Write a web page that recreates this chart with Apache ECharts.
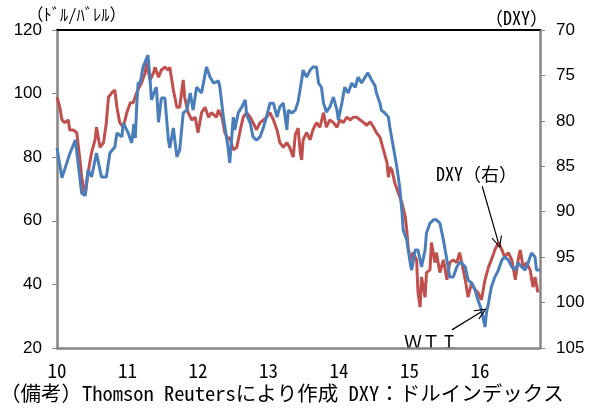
<!DOCTYPE html>
<html><head><meta charset="utf-8">
<script src="https://cdn.jsdelivr.net/npm/echarts@6/dist/echarts.min.js"></script>
<style>html,body{margin:0;padding:0;background:#fff}#c{width:597px;height:411px}</style>
</head><body><div id="c"></div>
<script>
// WTI (USD/barrel), left axis — time as fractional year (10 = 2010)
var wtiT = [10.00,10.07,10.18,10.26,10.35,10.40,10.44,10.49,10.56,10.63,
10.70,10.75,10.82,10.85,10.92,10.94,11.01,11.06,11.09,11.11,
11.13,11.15,11.18,11.22,11.29,11.32,11.34,11.39,11.41,11.44,
11.48,11.53,11.58,11.60,11.65,11.70,11.74,11.79,11.84,11.89,
11.93,11.98,12.05,12.12,12.17,12.22,12.29,12.31,12.36,12.41,
12.43,12.45,12.50,12.52,12.57,12.62,12.67,12.69,12.74,12.78,
12.83,12.88,12.93,12.97,13.02,13.07,13.12,13.16,13.21,13.26,
13.28,13.33,13.38,13.42,13.47,13.49,13.54,13.59,13.63,13.68,
13.71,13.75,13.78,13.82,13.87,13.92,13.97,13.99,14.04,14.08,
14.13,14.18,14.23,14.27,14.32,14.37,14.41,14.46,14.51,14.53,
14.58,14.60,14.65,14.70,14.72,14.77,14.82,14.86,14.89,14.91,
14.96,15.01,15.03,15.08,15.12,15.17,15.22,15.24,15.29,15.34,
15.38,15.43,15.48,15.53,15.57,15.62,15.67,15.71,15.74,15.79,
15.83,15.88,15.93,15.97,16.02,16.07,16.09,16.12,16.16,16.21,
16.26,16.31,16.35,16.40,16.45,16.50,16.54,16.59,16.64,16.68,
16.73,16.78,16.80,16.85];
var wtiV = [82.9,73.5,81,85.4,68.7,68,76,73.8,81.3,73.8,
73.8,81.3,83.2,87.6,86.4,90.8,87.6,84.5,90.5,86,
96,103.3,103.3,108.4,112.1,104.3,98,101.1,102,91,
98.6,98.6,85.4,82.9,89.2,80.1,82.3,93.9,94.8,100.2,
94.8,102,100.2,108.4,105.2,103.3,104,102,92.6,85.4,
82.3,78.2,92.6,88.6,93.9,95.8,98,93.3,90.8,86.4,
85.4,86.4,89.5,92.6,97,97,92.6,95.8,97,88.6,
94.8,93.9,94.8,97.5,104.3,107.4,105.2,107.4,108.4,108.4,
103.3,102,97,94.2,95.8,98.9,94.8,91.7,97,102,
100.2,103.3,102,105.2,103.3,105.2,106.5,104.3,102.5,100.2,
97,94.8,93.9,92.6,89.5,83.2,76.9,70.6,63.4,57.1,
54,46.7,44.5,50.8,50.8,45.5,50.8,56.2,59.3,60.3,
60.3,59.3,54,47.7,42.3,42.3,45.5,47,46.7,45.5,
41.4,40.4,38.2,35.1,32,26.6,31,34.2,39.2,42.3,
44.5,47.7,48.6,47.7,45.5,44.5,46.7,45.5,44.5,46.7,
49.9,48.6,44.5,44.5];

// DXY, right axis (inverted)
var dxyT = [10.00,10.04,10.07,10.11,10.16,10.18,10.23,10.28,10.33,10.35,
10.40,10.44,10.49,10.54,10.56,10.61,10.66,10.70,10.73,10.78,
10.82,10.85,10.89,10.94,10.99,11.04,11.08,11.13,11.20,11.25,
11.27,11.32,11.37,11.39,11.44,11.48,11.53,11.58,11.60,11.65,
11.70,11.74,11.79,11.81,11.86,11.91,11.96,12.00,12.05,12.10,
12.15,12.19,12.26,12.29,12.34,12.38,12.43,12.45,12.50,12.55,
12.60,12.64,12.69,12.74,12.78,12.83,12.88,12.93,12.97,13.02,
13.07,13.12,13.16,13.21,13.26,13.30,13.35,13.38,13.42,13.45,
13.47,13.49,13.54,13.59,13.63,13.68,13.73,13.78,13.82,13.87,
13.92,13.97,14.01,14.06,14.11,14.16,14.20,14.25,14.30,14.35,
14.39,14.44,14.49,14.53,14.58,14.63,14.68,14.70,14.72,14.75,
14.79,14.84,14.89,14.94,14.96,14.98,15.01,15.05,15.10,15.12,
15.15,15.17,15.22,15.24,15.29,15.31,15.36,15.38,15.43,15.48,
15.53,15.57,15.62,15.67,15.71,15.74,15.79,15.83,15.88,15.93,
15.97,16.02,16.07,16.12,16.16,16.21,16.26,16.31,16.35,16.40,
16.45,16.50,16.54,16.57,16.61,16.66,16.71,16.75,16.78,16.82];
var dxyV = [77.4,78.5,79.9,80.2,79.9,81,81,81.3,84.6,86.2,
88.2,85.7,83.5,82.1,80.7,82.9,82.4,80.2,77.4,76.9,
76.6,78.5,80.2,80.7,79.1,78,78,76.9,75.8,74.7,
73.6,75.5,74.7,74.1,75.2,74.4,74.1,74.4,74.1,76.6,
78.5,78.5,75.5,77.4,79.1,79.9,79.6,81.3,79.1,78.5,
79.6,79.1,79.6,78.8,79.6,81.3,82.1,81.8,83.2,82.9,
81,79.6,79.1,79.6,80.2,81,80.2,79.9,79.6,79.1,
79.9,81,82.4,82.9,82.4,82.9,84,81.5,80.8,83.5,
84.3,82.1,81.3,82.1,81,80.2,80.7,79.1,80.7,79.9,
80.2,80.7,79.9,80.2,79.6,79.9,79.6,79.6,79.9,80.2,
80.5,80.1,80.7,81.3,81.8,83.2,84.6,86.2,85.1,85.4,
86.8,87.9,89,90.6,92,93.9,95.3,94.5,95.3,98.9,
100.5,97.2,99.4,96.7,96.4,93.4,95.6,94.5,96.7,95.3,
97.5,95.6,95.3,95.6,94.5,95.6,97.5,99.4,97.8,98.6,
98.9,99.7,97.5,96.1,95.3,94.2,93.4,94.2,95,94.5,
95.3,97.5,95.3,94.2,96.1,95.6,96.4,98.3,97.2,98.9];

var yearTicks = ['10','11','12','13','14','15','16'];
var leftTicks = [20,40,60,80,100,120];
var rightTicks = [70,75,80,85,90,95,100,105];

var GOTHIC = '"Noto Sans Mono CJK JP","Noto Sans CJK JP",sans-serif';
var ARIAL = '"Liberation Sans",Arial,sans-serif';
var arrowHead = 'path://M0,12 L6,0 L12,12 L10.6,12 L6,2.8 L1.4,12 Z';

function zip(t, v) { return t.map(function (x, i) { return [x, v[i]]; }); }

var chart = echarts.init(document.getElementById('c'), null, {renderer: 'canvas'});
chart.setOption({
  backgroundColor: '#fff',
  animation: false,
  grid: {left: 57, right: 57, top: 30, bottom: 63, containLabel: false},
  xAxis: [{
    type: 'value', min: 10, max: 16.85, interval: 1,
    axisLine: {show: true, lineStyle: {color: '#868686', width: 2.5}},
    axisTick: {show: false},
    splitLine: {show: false},
    axisLabel: {
      margin: 13, fontFamily: GOTHIC, fontSize: 19, color: '#000',
      formatter: function (v) { var i = Math.round(v) - 10; return yearTicks[i] !== undefined && Math.abs(v - Math.round(v)) < 1e-6 ? yearTicks[i] : ''; }
    }
  }, {
    type: 'value', min: 10, max: 16.85, position: 'top',
    axisLine: {show: true, onZero: false, lineStyle: {color: '#000', width: 2}},
    axisTick: {show: false}, axisLabel: {show: false}, splitLine: {show: false}
  }],
  yAxis: [{
    type: 'value', min: 20, max: 120, interval: 20, position: 'left',
    axisLine: {show: true, lineStyle: {color: '#868686', width: 2.5}},
    axisTick: {show: true, inside: false, length: 5, lineStyle: {color: '#868686', width: 1}},
    splitLine: {show: false},
    axisLabel: {
      margin: 15, fontFamily: ARIAL, fontSize: 17, color: '#000',
      formatter: function (v) { return leftTicks.indexOf(v) >= 0 ? String(v) : ''; }
    }
  }, {
    type: 'value', min: 70, max: 105, interval: 5, inverse: true, position: 'right',
    axisLine: {show: true, lineStyle: {color: '#868686', width: 2.5}},
    axisTick: {show: true, inside: false, length: 5, lineStyle: {color: '#868686', width: 1}},
    splitLine: {show: false},
    axisLabel: {
      margin: 16, fontFamily: ARIAL, fontSize: 17, color: '#000',
      formatter: function (v) { return rightTicks.indexOf(v) >= 0 ? String(v) : ''; }
    }
  }],
  series: [{
    name: 'DXY', type: 'line', xAxisIndex: 0, yAxisIndex: 1,
    data: zip(dxyT, dxyV), showSymbol: false, smooth: false,
    lineStyle: {color: '#C0504D', width: 3}, z: 2,
    markLine: {
      silent: true, animation: false,
      symbol: ['none', arrowHead], symbolSize: [11, 12],
      lineStyle: {color: '#000', width: 1.2, type: 'solid'},
      label: {show: false},
      data: [[{coord: [16.03, 87.2]}, {coord: [16.26, 93.4]}]]
    }
  }, {
    name: 'WTI', type: 'line', xAxisIndex: 0, yAxisIndex: 0,
    data: zip(wtiT, wtiV), showSymbol: false, smooth: false,
    lineStyle: {color: '#4A7EBB', width: 3}, z: 3,
    markLine: {
      silent: true, animation: false,
      symbol: ['none', arrowHead], symbolSize: [11, 12],
      lineStyle: {color: '#000', width: 1.2, type: 'solid'},
      label: {show: false},
      data: [[{coord: [15.60, 25.7]}, {coord: [16.02, 31.4]}]]
    }
  }],
  graphic: [
    {type: 'text', left: 27, top: 6, style: {text: '（ﾄﾞﾙ/ﾊﾞﾚﾙ）', font: '16.5px ' + GOTHIC, fill: '#000'}},
    {type: 'text', left: 485, top: 9, style: {text: '（DXY）', font: '18px ' + GOTHIC, fill: '#000'}},
    {type: 'text', left: 436, top: 165, style: {text: 'DXY（右）', font: '18px ' + GOTHIC, fill: '#000'}},
    {type: 'text', left: 404, top: 333, style: {text: 'ＷＴＩ', font: '18px ' + GOTHIC, fill: '#000'}},
    {type: 'text', left: 0, top: 383, style: {text: '（備考）Thomson Reutersにより作成 DXY：ドルインデックス', font: '20.5px ' + GOTHIC, fill: '#000'}}
  ]
});
</script></body></html>
